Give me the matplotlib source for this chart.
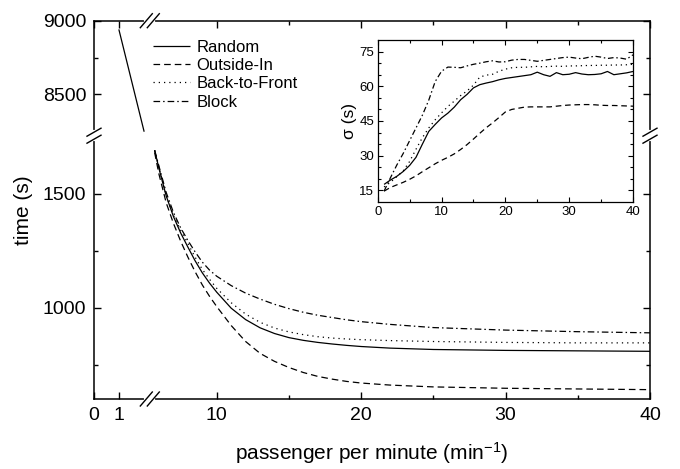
import numpy as np
import matplotlib.pyplot as plt

plt.rcParams['font.family'] = ['Liberation Sans', 'DejaVu Sans']
plt.rcParams['mathtext.fontset'] = 'custom'
plt.rcParams['mathtext.rm'] = 'Liberation Sans'
plt.rcParams['mathtext.it'] = 'Liberation Sans:italic'

# total boarding time vs. arrival rate
rate = [5.7, 6, 6.5, 7, 7.5, 8, 8.5, 9, 9.5, 10, 11, 12, 13, 14, 15, 16, 17, 18, 19, 20,
        22, 25, 30, 35, 40]
time_random = [1690, 1610, 1490, 1400, 1328, 1266, 1206, 1153, 1108, 1068, 998, 948, 912,
               887, 869, 857, 848, 841, 835, 830, 823, 817, 813, 811, 809]
time_outside = [1680, 1585, 1460, 1370, 1292, 1222, 1158, 1100, 1050, 1005, 922, 852, 800,
                765, 738, 716, 699, 687, 677, 670, 661, 653, 647, 644, 641]
time_back = [1690, 1615, 1492, 1405, 1340, 1282, 1222, 1168, 1125, 1085, 1022, 972, 936,
             911, 894, 882, 873, 867, 863, 860, 856, 852, 848, 846, 846]
time_block = [1690, 1620, 1505, 1418, 1350, 1295, 1245, 1200, 1165, 1138, 1097, 1064, 1038,
              1015, 996, 980, 967, 957, 947, 939, 927, 913, 902, 895, 890]

# first point (rate 1), same for every strategy
rate_head = [1, 2]
time_head = [8937, 8250]

# inset: standard deviation of boarding time
rate_sd = list(range(1, 41))
sd_random = [17.6, 19.5, 21.1, 23.2, 25.8, 29.3, 35.0, 40.5, 43.5, 46.3,
             48.4, 51.0, 54.2, 56.5, 59.3, 60.7, 61.4, 62.0, 62.8, 63.4,
             63.8, 64.2, 64.6, 65.0, 66.1, 65.0, 64.3, 65.9, 65.0, 65.2,
             65.9, 65.3, 65.0, 65.1, 65.4, 66.4, 65.0, 65.4, 65.8, 66.4]
sd_outside = [14.7, 16.3, 17.4, 18.5, 19.8, 21.3, 23.1, 24.8, 26.5, 28.0,
              29.3, 30.8, 32.7, 34.8, 37.2, 39.7, 42.1, 44.2, 46.5, 48.9,
              50.0, 50.5, 51.0, 51.1, 51.1, 51.1, 51.1, 51.4, 51.7, 51.9,
              52.0, 52.1, 52.1, 52.0, 51.8, 51.7, 51.7, 51.6, 51.5, 51.4]
sd_back = [16.5, 18.5, 21.0, 23.5, 27.5, 32.8, 37.8, 42.0, 45.5, 48.5,
           51.3, 53.6, 56.0, 58.0, 60.5, 64.0, 64.8, 65.2, 66.5, 67.4,
           68.0, 68.2, 68.2, 68.4, 68.6, 68.4, 68.6, 68.7, 68.6, 68.8,
           68.8, 68.9, 69.0, 69.0, 69.1, 69.1, 69.2, 69.2, 69.3, 69.5]
sd_block = [14.7, 20.5, 26.0, 31.0, 36.5, 42.0, 47.5, 54.0, 62.0, 66.5,
            68.3, 68.2, 68.0, 68.8, 69.5, 70.0, 70.6, 71.0, 70.5, 70.6,
            71.3, 71.6, 71.6, 71.2, 70.8, 71.2, 71.6, 72.0, 72.4, 72.6,
            72.2, 71.9, 72.5, 73.0, 72.6, 72.0, 72.4, 72.2, 71.7, 73.6]

labels = ['Random', 'Outside-In', 'Back-to-Front', 'Block']
styles = [(0, ()), (0, (5.3, 3.2)), (0, (1, 3.2)), (0, (5.3, 2.4, 1.2, 2.4))]
styles_inset = [(0, ()), (0, (4.5, 3)), (0, (1, 3)), (0, (4.5, 2.2, 1.2, 2.2))]


def broken_scale(data_pts, pix_pts):
    # piecewise linear mapping with a small gap at the break
    d = np.asarray(data_pts, float)
    p = np.asarray(pix_pts, float)
    lo = (p[1] - p[0]) / (d[1] - d[0])
    hi = (p[-1] - p[-2]) / (d[-1] - d[-2])
    d = np.concatenate([[d[0] - 1e5], d, [d[-1] + 1e5]])
    p = np.concatenate([[p[0] - 1e5 * lo], p, [p[-1] + 1e5 * hi]])
    fwd = lambda v: np.interp(v, d, p)
    inv = lambda v: np.interp(v, p, d)
    return fwd, inv


fig = plt.figure(figsize=(6.8, 4.69), dpi=100)
ax = fig.add_axes([94 / 680, 70 / 469, 556 / 680, 378.3 / 469])

# x: 0..2.2 at 25 px/unit, 5.42..40 at 14.44 px/unit
xb0, xb1 = 2.2, 5.42
x_fwd, x_inv = broken_scale([0, xb0, xb1, 40], [0, 55, 55 + 1.6, 556])
# y: 600..1750 lower part, 8225..9000 upper part
yb0, yb1 = 1750, 8225
y_fwd, y_inv = broken_scale([600, yb0, yb1, 9000], [0, 262.4, 264.2, 378.3])
ax.set_xscale('function', functions=(x_fwd, x_inv))
ax.set_yscale('function', functions=(y_fwd, y_inv))

for ys, lab, ls in zip([time_random, time_outside, time_back, time_block], labels, styles):
    ax.plot(rate, ys, color='black', lw=0.9, linestyle=ls, label=lab)
ax.plot(rate_head, time_head, color='black', lw=0.9)

ax.set_xlim(0, 40)
ax.set_ylim(600, 9000)
ax.set_xticks([0, 1, 10, 20, 30, 40], ['0', '1', '10', '20', '30', '40'])
ax.set_xticks([15, 25, 35], minor=True)
ax.set_yticks([1000, 1500, 8500, 9000], ['1000', '1500', '8500', '9000'])
ax.set_yticks([750, 1250, 8750], minor=True)
ax.tick_params(which='both', direction='in', top=True, right=True, width=1, labelsize=14)
ax.tick_params(which='major', length=5)
ax.tick_params(which='minor', length=3)
ax.tick_params(axis='x', pad=6)
ax.tick_params(axis='y', pad=5.5)
for s in ax.spines.values():
    s.set_linewidth(1.1)

ax.set_xlabel('passenger per minute (min$^{-1}$)', fontsize=15, labelpad=11)
ax.set_ylabel('time (s)', fontsize=15, labelpad=7)

ax.legend(loc='upper left', bbox_to_anchor=(0.106, 0.95), frameon=False, fontsize=12,
          handlelength=2.2, handletextpad=0.4, labelspacing=0.2, borderpad=0,
          borderaxespad=0)

# break marks on the spines
px, py = 1 / 556, 1 / 378.3
xa = 55.8 / 556
ya = 263.3 / 378.3
kw = dict(transform=ax.transAxes, clip_on=False, color='black', lw=1, zorder=5)
for yy in (0, 1):
    ax.plot([xa - 3.5 * px, xa + 3.5 * px], [yy, yy], transform=ax.transAxes,
            clip_on=False, color='white', lw=3, zorder=4)
    for c in (xa - 3.5 * px, xa + 3.5 * px):
        ax.plot([c - 6 * px, c + 6 * px], [yy - 7 * py, yy + 7 * py], **kw)
for xx in (0, 1):
    ax.plot([xx, xx], [ya - 3.5 * py, ya + 3.5 * py], transform=ax.transAxes,
            clip_on=False, color='white', lw=3, zorder=4)
    for c in (ya - 3.5 * py, ya + 3.5 * py):
        ax.plot([xx - 7 * px, xx + 7 * px], [c - 4 * py, c + 4 * py], **kw)

# inset
axi = fig.add_axes([377.7 / 680, 267 / 469, 255.3 / 680, 162 / 469])
for ys, ls in zip([sd_random, sd_outside, sd_back, sd_block], styles_inset):
    axi.plot(rate_sd, ys, color='black', lw=0.9, linestyle=ls)
axi.set_xlim(0, 40)
axi.set_ylim(10, 80)
axi.set_xticks([0, 10, 20, 30, 40])
axi.set_xticks([5, 15, 25, 35], minor=True)
axi.set_yticks([15, 30, 45, 60, 75])
axi.set_yticks(np.arange(20, 80, 5), minor=True)
axi.tick_params(which='both', direction='in', top=True, right=True, width=0.8, labelsize=9.5)
axi.tick_params(which='major', length=3.5)
axi.tick_params(which='minor', length=2)
axi.tick_params(axis='x', pad=3)
axi.tick_params(axis='y', pad=2.5)
for s in axi.spines.values():
    s.set_linewidth(0.9)
axi.set_ylabel('σ (s)', fontsize=12.5, labelpad=2)

fig.savefig('out.png', dpi=100)
